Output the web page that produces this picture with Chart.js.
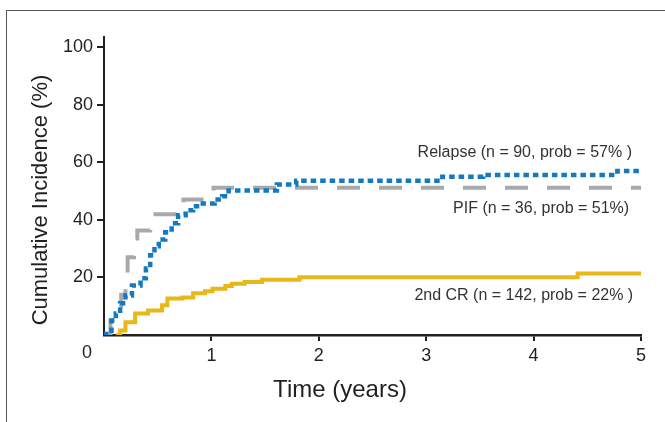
<!DOCTYPE html>
<html><head><meta charset="utf-8">
<script src="https://cdn.jsdelivr.net/npm/chart.js@4/dist/chart.umd.min.js"></script>
<style>
html,body{margin:0;padding:0;background:#fff;overflow:hidden;}
#wrap{position:relative;width:665px;height:422px;}
#frame{position:absolute;left:6px;top:10px;width:670px;height:420px;border-left:1.5px solid #555;border-top:1.5px solid #555;pointer-events:none;}
canvas{position:absolute;left:0;top:0;}
</style></head>
<body><div id="wrap"><canvas id="c" width="665" height="422"></canvas><div id="frame"></div></div>
<script>
// ---- data ----
const relapseT = [0, 0.02, 0.07, 0.11, 0.15, 0.20, 0.26, 0.34, 0.39, 0.43, 0.47, 0.51, 0.57, 0.63, 0.69, 0.76, 0.83, 0.92, 1.03, 1.10, 1.16, 1.61, 1.79, 3.15, 3.53, 4.78, 5.0];
const relapseV = [0, 1.5, 5, 7.5, 11, 13.7, 17.2, 19.7, 23.1, 27.7, 30.8, 33.2, 35.7, 38.8, 41.6, 43.3, 44.7, 45.7, 47.1, 48.2, 50.2, 52.3, 53.6, 55.0, 55.6, 57.0, 57.0];
const pifT = [0.02, 0.06, 0.12, 0.16, 0.20, 0.22, 0.28, 0.31, 0.43, 0.74, 1.02, 5.0];
const pifV = [0, 5, 9, 14, 21, 27, 33.5, 36.3, 41.9, 47.1, 51.1, 51.1];
const crT = [0.11, 0.15, 0.20, 0.29, 0.41, 0.54, 0.59, 0.73, 0.83, 0.94, 1.01, 1.13, 1.19, 1.31, 1.47, 1.82, 4.41, 5.0];
const crV = [0, 1.6, 4.4, 7.5, 8.5, 10.3, 12.7, 13.0, 14.5, 15.2, 16.1, 17.0, 17.8, 18.4, 19.2, 20.1, 21.4, 21.4];
const xTicks = [1, 2, 3, 4, 5];
const yTicks = [20, 40, 60, 80, 100];
const seriesLabels = ['Relapse (n = 90, prob = 57% )', 'PIF (n = 36, prob = 51%)', '2nd CR (n = 142, prob = 22% )'];
const labelX = [2.92, 3.25, 2.89];
const labelY = [63.5, 44, 13.8];
const xTitle = 'Time (years)';
const yTitle = 'Cumulative Incidence (%)';

const AX = '#231f20';
const REG = '"Liberation Sans", Arial, sans-serif';
const pts = (t, v) => t.map((x, i) => ({x: x, y: v[i]}));

const labelPlugin = {
  id: 'seriesLabels',
  afterDraw(chart) {
    const {ctx, scales: {x, y}} = chart;
    ctx.save();
    ctx.font = '16px ' + REG;
    ctx.fillStyle = '#333';
    ctx.textAlign = 'left';
    ctx.textBaseline = 'middle';
    seriesLabels.forEach((s, i) => ctx.fillText(s, x.getPixelForValue(labelX[i]), y.getPixelForValue(labelY[i])));
    ctx.font = '18px ' + REG;
    ctx.fillStyle = AX;
    ctx.textAlign = 'center';
    ctx.fillText('0', x.getPixelForValue(0) - 17, y.getPixelForValue(0) + 18);
    // axis titles
    ctx.font = '24px ' + REG;
    ctx.fillText(xTitle, x.getPixelForValue(0) + 236, y.getPixelForValue(0) + 55);
    ctx.font = '22px ' + REG;
    ctx.translate(41, y.getPixelForValue(0) - 135);
    ctx.rotate(-Math.PI / 2);
    ctx.fillText(yTitle, 0, 0);
    ctx.restore();
  }
};

new Chart(document.getElementById('c'), {
  type: 'line',
  data: {
    datasets: [
      {label: 'Relapse', data: pts(relapseT, relapseV), borderColor: '#1479c0', borderWidth: 4.5, borderDash: [5.5, 4], stepped: 'before', fill: false},
      {label: 'PIF', data: pts(pifT, pifV), borderColor: '#a7a9ac', borderWidth: 4, borderDash: [23, 19], stepped: 'before', fill: false},
      {label: '2nd CR', data: pts(crT, crV), borderColor: '#e8b71a', borderWidth: 4, stepped: 'before', fill: false}
    ]
  },
  options: {
    responsive: false,
    animation: false,
    layout: {padding: {top: 37, right: 24, left: 0, bottom: 0}},
    plugins: {legend: {display: false}, tooltip: {enabled: false}},
    elements: {point: {radius: 0}},
    scales: {
      x: {
        type: 'linear', min: 0, max: 5,
        afterBuildTicks: s => { s.ticks = xTicks.map(v => ({value: v})); },
        afterFit: s => { s.height = 87; },
        grid: {drawOnChartArea: false, drawTicks: true, tickLength: 6, color: AX, lineWidth: 2},
        border: {display: true, color: AX, width: 2.5},
        ticks: {font: {family: REG, size: 18}, color: AX, padding: 4, maxRotation: 0, autoSkip: false},
        title: {display: false}
      },
      y: {
        min: 0, max: 103.5,
        afterBuildTicks: s => { s.ticks = yTicks.map(v => ({value: v})); },
        afterFit: s => { s.width = 104; },
        grid: {drawOnChartArea: false, drawTicks: true, tickLength: 7, color: AX, lineWidth: 2},
        border: {display: true, color: AX, width: 2},
        ticks: {font: {family: REG, size: 18}, color: AX, padding: 4, autoSkip: false},
        title: {display: false}
      }
    }
  },
  plugins: [labelPlugin]
});
</script>
</body></html>
